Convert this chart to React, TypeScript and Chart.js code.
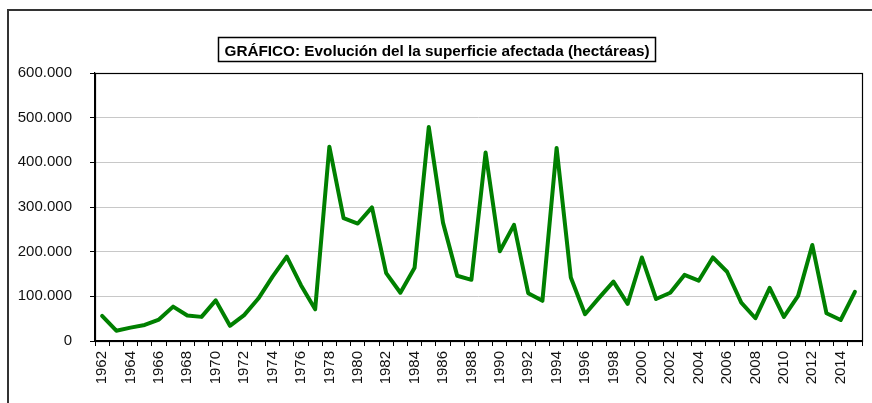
import React, { useEffect, useRef } from 'react';
import { Chart, registerables } from 'chart.js';

Chart.register(...registerables);

const years: string[] = [
  '1962', '1963', '1964', '1965', '1966', '1967', '1968', '1969', '1970', '1971',
  '1972', '1973', '1974', '1975', '1976', '1977', '1978', '1979', '1980', '1981',
  '1982', '1983', '1984', '1985', '1986', '1987', '1988', '1989', '1990', '1991',
  '1992', '1993', '1994', '1995', '1996', '1997', '1998', '1999', '2000', '2001',
  '2002', '2003', '2004', '2005', '2006', '2007', '2008', '2009', '2010', '2011',
  '2012', '2013', '2014', '2015',
];

const affectedHectares: number[] = [
  56000, 23000, 30000, 36000, 48000, 77000, 57000, 54000, 91000, 34000,
  58000, 95000, 144000, 189000, 125000, 71000, 435000, 275000, 263000, 299000,
  152000, 108000, 164000, 479000, 265000, 146000, 137000, 422000, 201000, 260000,
  107000, 90000, 432000, 142000, 60000, 97000, 133000, 83000, 187000, 94000,
  108000, 148000, 135000, 187000, 155000, 86000, 51000, 119000, 54000, 101000,
  215000, 62000, 47000, 110000,
];

const yMin = 0;
const yMax = 600000;
const yStep = 100000;

const chartTitle = 'GRÁFICO: Evolución del la superficie afectada (hectáreas)';

const FONT = 'Arial, "Liberation Sans", Helvetica, sans-serif';

function fmtThousands(v: number): string {
  return String(Math.round(v)).replace(/\B(?=(\d{3})+(?!\d))/g, '.');
}

export default function App() {
  const ref = useRef<HTMLCanvasElement>(null);

  useEffect(() => {
    if (!ref.current) return;

    const framePlugin = {
      id: 'frames',
      afterDraw(chart: any) {
        const { ctx, chartArea: a } = chart;
        ctx.save();
        // outer frame (top and left edges visible)
        ctx.fillStyle = '#333';
        ctx.fillRect(7, 9, 866, 2);
        ctx.fillRect(7, 9, 2, 400);
        // plot frame
        ctx.strokeStyle = '#000';
        ctx.lineWidth = 1.2;
        ctx.strokeRect(Math.round(a.left) + 0.5, Math.round(a.top) + 0.5, Math.round(a.right - a.left), Math.round(a.bottom - a.top));
        // title box
        ctx.font = `bold 15.3px ${FONT}`;
        const w = ctx.measureText(chartTitle).width;
        const cx = 437;
        ctx.lineWidth = 1.5;
        ctx.strokeStyle = '#000';
        ctx.strokeRect(Math.round(cx - w / 2 - 6) + 0.5, 37.5, Math.round(w + 12), 24);
        ctx.fillStyle = '#000';
        ctx.textAlign = 'center';
        ctx.textBaseline = 'alphabetic';
        ctx.fillText(chartTitle, cx, 55.5);
        ctx.restore();
      },
    };

    const chart = new Chart(ref.current, {
      type: 'line',
      data: {
        labels: years,
        datasets: [
          {
            data: affectedHectares,
            borderColor: '#008000',
            backgroundColor: '#008000',
            borderWidth: 4,
            pointRadius: 0,
            tension: 0,
            borderJoinStyle: 'round',
            borderCapStyle: 'round',
            fill: false,
          },
        ],
      },
      options: {
        responsive: false,
        animation: false,
        devicePixelRatio: 1,
        layout: { padding: { left: 0, top: 73, right: 10, bottom: 0 } },
        plugins: {
          legend: { display: false },
          title: { display: false },
          tooltip: { enabled: false },
        },
        scales: {
          x: {
            type: 'category',
            offset: true,
            afterFit(scale: any) {
              scale.height = 62;
              scale.paddingLeft = 0;
              scale.paddingRight = 0;
            },
            grid: {
              offset: true,
              drawOnChartArea: false,
              drawTicks: true,
              tickLength: 5,
              color: '#000',
              tickColor: '#000',
            },
            border: { display: true, color: '#000', width: 1.2 },
            ticks: {
              autoSkip: false,
              minRotation: 90,
              maxRotation: 90,
              padding: 5,
              color: '#111',
              font: { family: FONT, size: 15 },
              callback: (_v: any, i: number) => (i % 2 === 0 ? years[i] : ''),
            },
          },
          y: {
            min: yMin,
            max: yMax,
            afterFit(scale: any) {
              scale.width = 95;
              scale.paddingTop = 0;
              scale.paddingBottom = 0;
            },
            grid: {
              color: '#c8c8c8',
              tickColor: '#000',
              tickLength: 5,
              lineWidth: 1,
            },
            border: { display: true, color: '#000', width: 1.2 },
            ticks: {
              stepSize: yStep,
              padding: 18,
              color: '#111',
              font: { family: FONT, size: 15 },
              callback: (v: any) => fmtThousands(Number(v)),
            },
          },
        },
      },
      plugins: [framePlugin],
    });

    return () => chart.destroy();
  }, []);

  return (
    <canvas
      ref={ref}
      width={872}
      height={403}
      style={{ position: 'fixed', left: 0, top: 0, width: 872, height: 403 }}
    />
  );
}
